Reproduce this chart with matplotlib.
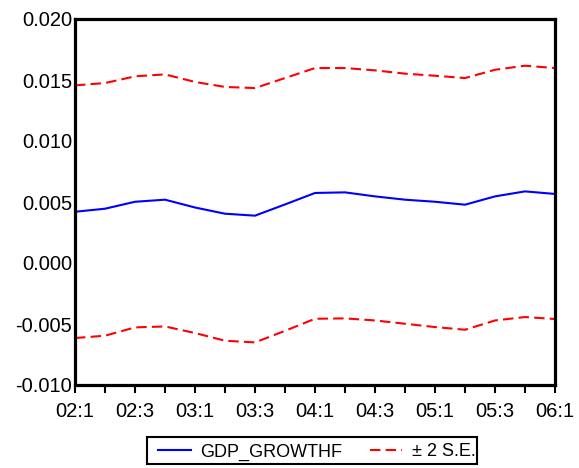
import matplotlib
matplotlib.use("Agg")
import matplotlib.pyplot as plt
from matplotlib.patches import Rectangle

plt.rcParams['font.family'] = ['Liberation Sans', 'DejaVu Sans']

# quarterly forecast, 2002Q1 .. 2006Q1
quarters = ['02:1', '02:2', '02:3', '02:4', '03:1', '03:2', '03:3', '03:4',
            '04:1', '04:2', '04:3', '04:4', '05:1', '05:2', '05:3', '05:4', '06:1']
gdp_growthf = [0.00420, 0.00445, 0.00502, 0.00519, 0.00455, 0.00404, 0.00388, 0.00480,
               0.00574, 0.00579, 0.00546, 0.00519, 0.00502, 0.00478, 0.00546, 0.00587, 0.00566]
upper_se = [0.01456, 0.01475, 0.01530, 0.01546, 0.01484, 0.01443, 0.01434, 0.01516,
            0.01598, 0.01598, 0.01579, 0.01552, 0.01535, 0.01516, 0.01584, 0.01617, 0.01598]
lower_se = [-0.00615, -0.00596, -0.00528, -0.00520, -0.00574, -0.00637, -0.00651, -0.00556,
            -0.00457, -0.00454, -0.00471, -0.00498, -0.00525, -0.00547, -0.00471, -0.00443, -0.00459]
yticks = [-0.010, -0.005, 0.000, 0.005, 0.010, 0.015, 0.020]

W, H = 579, 468
fig = plt.figure(figsize=(W / 100, H / 100), dpi=100)
ax = fig.add_axes([75 / W, (H - 385) / H, 480 / W, 366 / H])

x = list(range(len(quarters)))
l1, = ax.plot(x, gdp_growthf, color='#0000ff', lw=1.5, label='GDP_GROWTHF')
l2, = ax.plot(x, upper_se, color='#ff0000', lw=1.5, ls=(0, (5, 2.5)), label='\u00b1 2 S.E.')
ax.plot(x, lower_se, color='#ff0000', lw=1.5, ls=(0, (5, 2.5)))

ax.set_xlim(0, len(quarters) - 1)
ax.set_ylim(-0.010, 0.020)
ax.set_xticks(x[::2])
ax.set_xticklabels(quarters[::2])
ax.set_xticks(x[1::2], minor=True)
ax.set_yticks(yticks)
ax.set_yticklabels(['%.3f' % v for v in yticks])

ax.tick_params(axis='x', which='both', direction='out', length=6, width=1.5, pad=6, labelsize=14.5)
ax.tick_params(axis='y', length=0, pad=2, labelsize=14.5)
for s in ax.spines.values():
    s.set_linewidth(2.3)
    s.set_color('black')

# legend box (drawn by hand, as in the original)
fig.patches.append(Rectangle((147 / W, (H - 464) / H), 330 / W, 27 / H,
                             transform=fig.transFigure, fill=False,
                             edgecolor='black', lw=1.5))
fig.legend(handles=[l1, l2], loc='center left', bbox_to_anchor=(158 / W, (H - 452) / H),
           ncol=2, frameon=False, fontsize=13, handlelength=1.8,
           handletextpad=0.55, columnspacing=1.5, borderpad=0, borderaxespad=0)

fig.savefig('out.png', dpi=100)
